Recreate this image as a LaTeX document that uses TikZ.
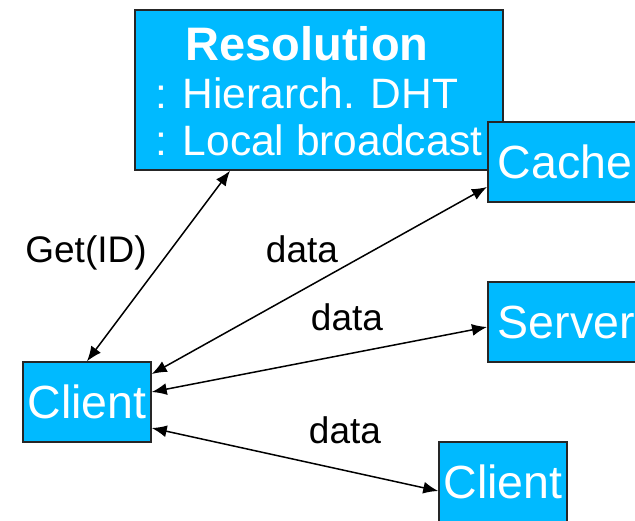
\documentclass[tikz,border=0pt]{standalone}
\usepackage{fontspec}
\setmainfont{Liberation Sans}
\usetikzlibrary{arrows.meta}
\definecolor{boxblue}{RGB}{0,186,255}

\begin{document}
\begin{tikzpicture}[
  x=1pt, y=-1pt,
  box/.style={draw=black!85, line width=1.5pt, fill=boxblue, text=white,
    inner sep=0pt, minimum height=80pt, font=\fontsize{46.5}{50}\selectfont},
  restext/.style={text=white, inner sep=0pt, font=\fontsize{42.5}{46}\selectfont},
  lbl/.style={inner sep=0pt, anchor=base, font=\fontsize{37}{42}\selectfont},
  link/.style={{Latex[length=15pt,width=12pt]}-{Latex[length=15pt,width=12pt]}, line width=1.5pt},
]
\useasboundingbox (0,0) rectangle (635,520);
\clip (0,0) rectangle (635,520);

% Boxes
\node[box, minimum width=368pt, minimum height=160pt] (res) at (319,90) {};
\node[restext, anchor=base, font=\fontsize{47}{50}\selectfont\bfseries] (restitle) at (307,60) {Resolution};
\node[restext, anchor=base west] (resdht) at (155,108) {: Hierarch. DHT};
\node[restext, anchor=base west] (resbc) at (155,155) {: Local broadcast};

\node[box, anchor=west, inner xsep=10pt, minimum width=170pt, text width=150pt, align=left] (cache) at (487,162) {Cache};
\node[box, anchor=west, inner xsep=10pt, minimum width=170pt, text width=150pt, align=left] (server) at (487,322) {Server};
\node[box, minimum width=128pt] (client) at (87,402) {Client};
\node[box, minimum width=128pt] (peer) at (503,482) {Client};

% Connectors
\draw[link] (client.north) -- ([xshift=-89pt]res.south);
\draw[link] ([yshift=28pt]client.east) -- ([yshift=-25pt]cache.west);
\draw[link] ([yshift=10pt]client.east) -- ([yshift=-5pt]server.west);
\draw[link] ([yshift=-26pt]client.east) -- ([yshift=-9pt]peer.west);

% Labels
\node[lbl] (getid) at (86,262) {Get(ID)};
\node[lbl] (data1) at (302,262) {data};
\node[lbl] (data2) at (347,330) {data};
\node[lbl] (data3) at (345,443) {data};

\end{tikzpicture}
\end{document}
